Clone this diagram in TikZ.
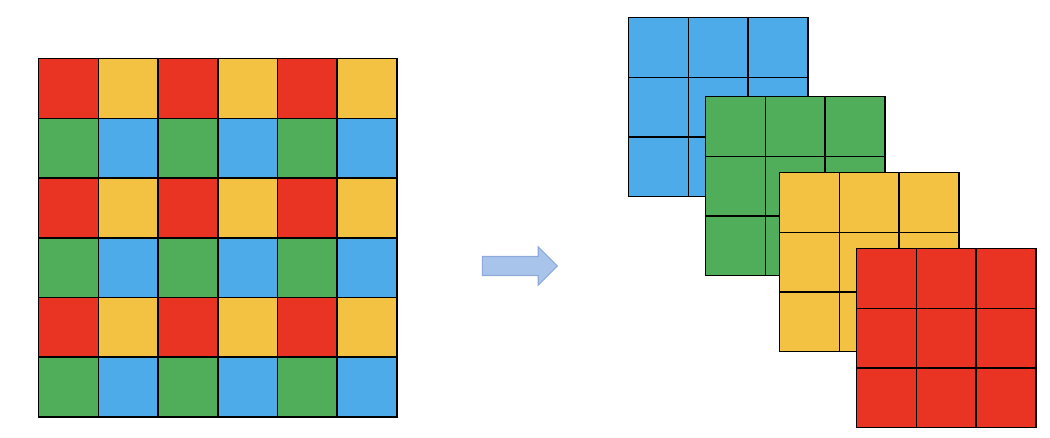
\documentclass[tikz,border=0pt]{standalone}
\usetikzlibrary{shapes.arrows,positioning}
\definecolor{cRed}{HTML}{E93323}
\definecolor{cYellow}{HTML}{F3C242}
\definecolor{cGreen}{HTML}{50AD5A}
\definecolor{cBlue}{HTML}{4DABE9}
\definecolor{cArrow}{HTML}{A9C4EB}
\definecolor{cArrowLine}{HTML}{8EAADB}

\begin{document}
\begin{tikzpicture}[
    x=0.02cm, y=-0.02cm,
    cell/.style={rectangle, draw=black, line width=0.8pt, minimum size=1.194cm, inner sep=0pt, anchor=north west},
    bigarr/.style={single arrow, draw=cArrowLine, fill=cArrow, line width=0.6pt, minimum height=1.5cm, single arrow head extend=0.19cm, inner xsep=0pt, inner ysep=0.18cm}
]
\useasboundingbox (0,0) rectangle (1050,438);

% input 6x6
\foreach \r/\ca/\cb in {0/cRed/cYellow, 1/cGreen/cBlue, 2/cRed/cYellow, 3/cGreen/cBlue, 4/cRed/cYellow, 5/cGreen/cBlue} {
  \foreach \c in {0,2,4} {
    \pgfmathtruncatemacro\d{\c+1}
    \node[cell, fill=\ca] (in-\r-\c) at ({38+59.7*\c},{58+59.7*\r}) {};
    \node[cell, fill=\cb] (in-\r-\d) at ({38+59.7*\d},{58+59.7*\r}) {};
  }
}

% arrow
\node[bigarr] (arr) at (515,266) {};

% output 3x3 channels
\foreach \k/\x/\y/\col in {b/628/17/cBlue, g/705/96/cGreen, y/779/172/cYellow, r/856/248/cRed} {
  \foreach \r in {0,1,2} {
    \foreach \c in {0,1,2} {
      \node[cell, fill=\col] (out-\k-\r-\c) at ({\x+59.7*\c},{\y+59.7*\r}) {};
    }
  }
}
\end{tikzpicture}
\end{document}
